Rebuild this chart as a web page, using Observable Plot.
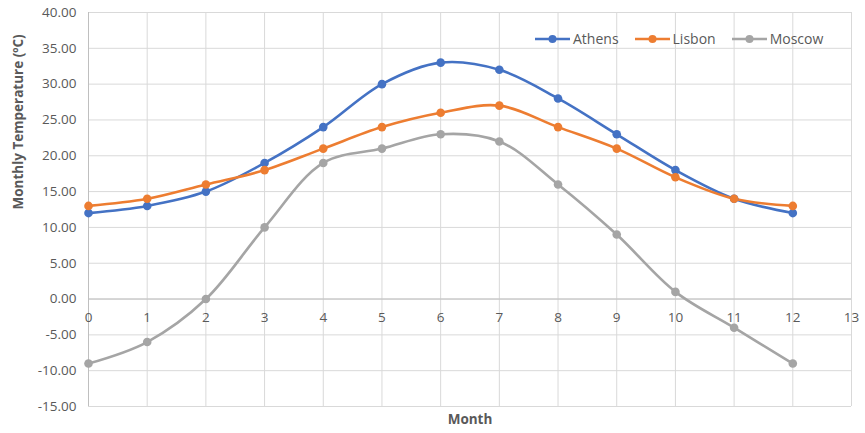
<!DOCTYPE html>
<html><head><meta charset="utf-8">
<script src="https://cdn.jsdelivr.net/npm/d3@7"></script>
<script src="https://cdn.jsdelivr.net/npm/@observablehq/plot@0.6"></script>
<style>
body{margin:0;background:#fff;font-family:"Open Sans",sans-serif;}
#wrap{position:relative;width:865px;height:433px;}
#legend{position:absolute;top:29px;left:535px;display:flex;gap:16px;font-size:14px;color:#595959;align-items:center;}
.li{display:flex;align-items:center;gap:3px;}
</style></head><body>
<div id="wrap"><div id="chart"></div><div id="legend"></div></div>
<script>
const months = [0,1,2,3,4,5,6,7,8,9,10,11,12];
const athens = [12,13,15,19,24,30,33,32,28,23,18,14,12];
const lisbon = [13,14,16,18,21,24,26,27,24,21,17,14,13];
const moscow = [-9,-6,0,10,19,21,23,22,16,9,1,-4,-9];
const seriesNames = ["Athens","Lisbon","Moscow"];
const seriesColors = ["#4472C4","#ED7D31","#A5A5A5"];
const xTicks = [0,1,2,3,4,5,6,7,8,9,10,11,12,13];
const yTicks = [-15,-10,-5,0,5,10,15,20,25,30,35,40];

const vals = [athens, lisbon, moscow];
const data = [];
seriesNames.forEach((s,i)=>months.forEach((m,j)=>data.push({series:s, month:m, temp:vals[i][j]})));

const font = "Open Sans";
const chart = Plot.plot({
  width:865, height:433,
  marginLeft:88, marginRight:14, marginTop:12, marginBottom:27,
  style:{fontFamily:font, fontSize:"13.5px", color:"#595959", background:"#fff"},
  x:{domain:[0,13], axis:null},
  y:{domain:[-15,40], axis:null},
  color:{domain:seriesNames, range:seriesColors},
  marks:[
    Plot.ruleX(xTicks,{x:d=>d, stroke:"#d9d9d9", strokeWidth:1, strokeOpacity:1}),
    Plot.ruleY(yTicks,{y:d=>d, stroke:"#d9d9d9", strokeWidth:1, strokeOpacity:1}),
    Plot.ruleY([0],{stroke:"#bfbfbf", strokeWidth:1}),
    Plot.ruleX([0],{stroke:"#bfbfbf", strokeWidth:1}),
    Plot.axisY({ticks:yTicks, tickSize:0, tickPadding:12, tickFormat:d=>d.toFixed(2), label:null, fontSize:13.5, fill:"#595959"}),
    Plot.text(xTicks,{x:d=>d, y:0, text:d=>String(d), dy:19, fill:"#595959", fontSize:13.5}),
    Plot.line(data,{x:"month", y:"temp", stroke:"series", z:"series", strokeWidth:2.6, curve:"catmull-rom"}),
    Plot.dot(data,{x:"month", y:"temp", fill:"series", r:4.3, stroke:"none"}),
    Plot.text(["Monthly Temperature (ºC)"],{frameAnchor:"left", dx:-70, rotate:-90, fontWeight:"bold", fontSize:13.5, fill:"#595959"}),
    Plot.text(["Month"],{frameAnchor:"bottom", dy:17, fontWeight:"bold", fontSize:13.5, fill:"#595959"})
  ]
});
document.getElementById("chart").appendChild(chart);
const lg = document.getElementById("legend");
seriesNames.forEach((s,i)=>{
  const d=document.createElement("div");d.className="li";
  d.innerHTML=`<svg width="35" height="12"><line x1="0" x2="35" y1="6" y2="6" stroke="${seriesColors[i]}" stroke-width="2.6"/><circle cx="17.5" cy="6" r="4" fill="${seriesColors[i]}"/></svg><span>${s}</span>`;
  lg.appendChild(d);
});
</script></body></html>
